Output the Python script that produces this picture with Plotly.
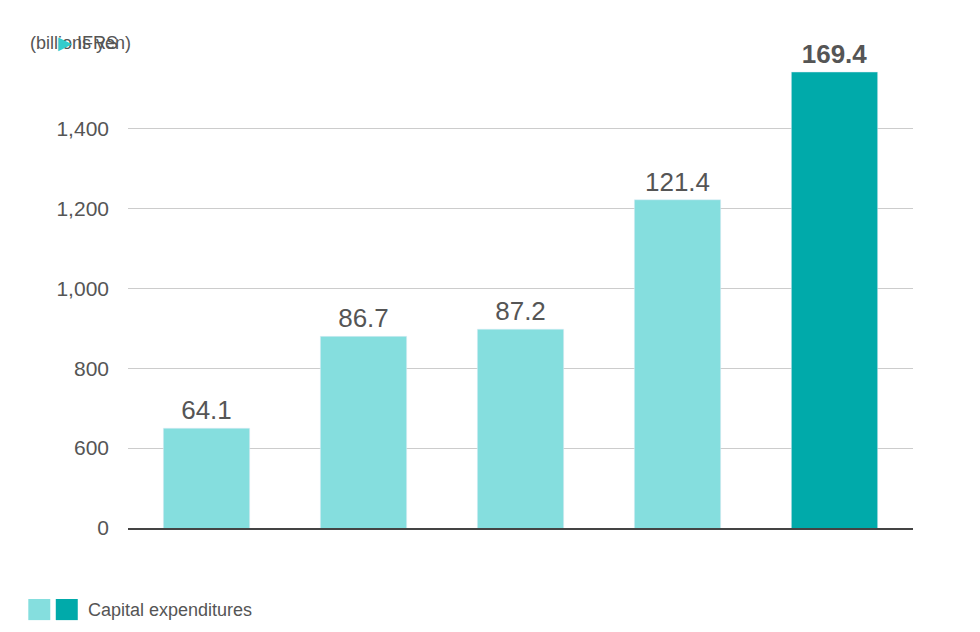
import plotly.graph_objects as go

# fiscal years (x labels are not shown in the chart)
years = ["FY1", "FY2", "FY3", "FY4", "FY5"]
# labelled capex, billions yen
capex = [64.1, 86.7, 87.2, 121.4, 169.4]
# bar heights read against the axis scale
heights = [650, 880, 898, 1222, 1542]
bar_colors = ["#85dede", "#85dede", "#85dede", "#85dede", "#00aaaa"]
tick_vals = [400, 600, 800, 1000, 1200, 1400]
tick_text = ["0", "600", "800", "1,000", "1,200", "1,400"]

labels = [f"<b>{v}</b>" if i == len(capex) - 1 else f"{v}" for i, v in enumerate(capex)]

fig = go.Figure()
fig.add_trace(go.Bar(
    x=years, y=heights, marker_color=bar_colors, width=0.55,
    text=labels, textposition="outside", cliponaxis=False,
    textfont=dict(size=26, color="#555555"),
))

fig.update_layout(
    width=980, height=632,
    margin=dict(l=120, r=75, t=50, b=112),
    plot_bgcolor="white", paper_bgcolor="white",
    font=dict(family="Liberation Sans, Arial, sans-serif", color="#555555"),
    showlegend=False, bargap=0.45,
    xaxis=dict(showticklabels=False, showline=True, linecolor="#444444", linewidth=1.5,
               automargin=False),
    yaxis=dict(range=[400, 1577], tickvals=tick_vals, ticktext=tick_text,
               gridcolor="#cccccc", tickfont=dict(size=21, color="#555555"),
               ticks="", ticklabelstandoff=18, zeroline=False, automargin=False),
)

fig.add_annotation(x=-0.127, y=1.032, xref="paper", yref="paper", xanchor="left", yanchor="middle",
                   text="(billions yen)", showarrow=False, font=dict(size=18, color="#555555"))
fig.add_annotation(x=-0.092, y=1.032, xref="paper", yref="paper", xanchor="left", yanchor="middle",
                   text="<span style='color:#33cccc'>▶</span> IFRS", showarrow=False,
                   font=dict(size=18, color="#555555"))

# legend swatches
fig.add_shape(type="rect", xref="paper", yref="paper", x0=-0.127, x1=-0.099, y0=-0.196, y1=-0.151,
              fillcolor="#85dede", line_width=0)
fig.add_shape(type="rect", xref="paper", yref="paper", x0=-0.092, x1=-0.064, y0=-0.196, y1=-0.151,
              fillcolor="#00aaaa", line_width=0)
fig.add_annotation(x=-0.053, y=-0.174, xref="paper", yref="paper", xanchor="left", yanchor="middle",
                   text="Capital expenditures", showarrow=False, font=dict(size=18, color="#555555"))

fig.write_html("out.html")
